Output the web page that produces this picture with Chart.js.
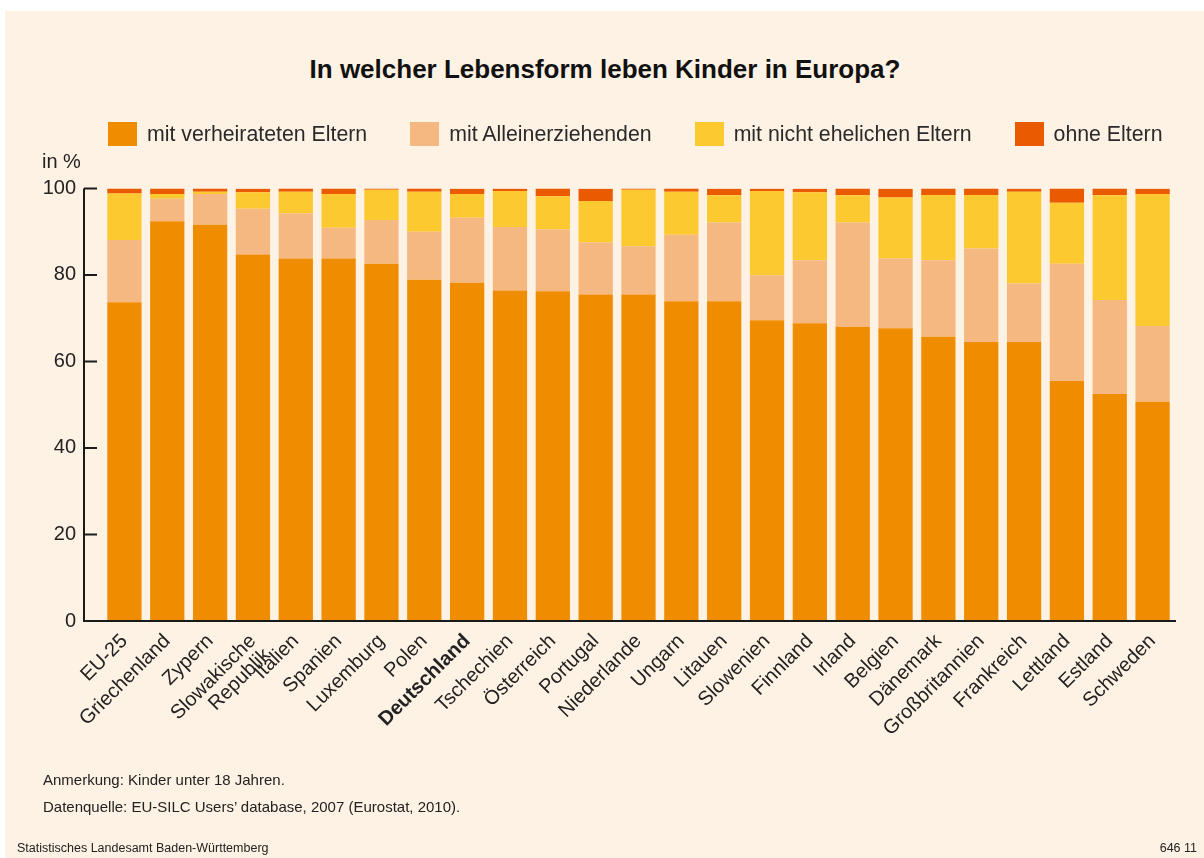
<!DOCTYPE html>
<html lang="de">
<head>
  <meta charset="UTF-8" />
  <title>In welcher Lebensform leben Kinder in Europa?</title>
  <script src="https://cdn.jsdelivr.net/npm/chart.js"></script>
  <style>
    html, body {
      margin: 0;
      padding: 0;
      background: #ffffff;
    }
    body {
      width: 1204px;
      height: 858px;
      position: relative;
      overflow: hidden;
      font-family: 'Liberation Sans', Arial, sans-serif;
      color: #222;
    }
    .panel {
      position: absolute;
      left: 5px;
      top: 11px;
      right: 0;
      bottom: 0;
      background: #fef2e4;
    }
    .wrap {
      position: absolute;
      left: 0;
      top: 0;
      width: 1204px;
      height: 858px;
    }
    h1 {
      position: absolute;
      left: 0;
      width: 1210px;
      top: 54px;
      margin: 0;
      text-align: center;
      font-size: 26px;
      font-weight: bold;
      color: #111;
    }
    #legend {
      position: absolute;
      left: 108px;
      top: 122px;
      display: flex;
      gap: 43px;
    }
    #legend .item {
      display: flex;
      align-items: center;
      height: 24px;
      font-size: 21.3px;
      color: #2a2a2a;
    }
    #legend .box {
      width: 29px;
      height: 24px;
      margin-right: 10px;
    }
    .note {
      position: absolute;
      left: 43px;
      font-size: 15px;
      color: #222;
    }
    .small {
      position: absolute;
      top: 841px;
      font-size: 12.5px;
      color: #222;
    }
  </style>
</head>
<body>
  <div class="panel"></div>
  <h1>In welcher Lebensform leben Kinder in Europa?</h1>
  <div class="wrap"><canvas id="chart"></canvas></div>
  <div id="legend"></div>
  <div class="note" style="top:771px">Anmerkung: Kinder unter 18 Jahren.</div>
  <div class="note" style="top:798px">Datenquelle: EU-SILC Users’ database, 2007 (Eurostat, 2010).</div>
  <div class="small" style="left:17px">Statistisches Landesamt Baden-Württemberg</div>
  <div class="small" style="right:7px">646 11</div>

  <script>
    // Länder (Reihenfolge wie im Original)
    const countries = ['EU-25', 'Griechenland', 'Zypern', ['Slowakische', 'Republik'], 'Italien', 'Spanien',
      'Luxemburg', 'Polen', 'Deutschland', 'Tschechien', 'Österreich', 'Portugal', 'Niederlande', 'Ungarn',
      'Litauen', 'Slowenien', 'Finnland', 'Irland', 'Belgien', 'Dänemark', 'Großbritannien', 'Frankreich',
      'Lettland', 'Estland', 'Schweden'];

    // Anteile in %
    const verheiratet = [73.7, 92.4, 91.6, 84.7, 83.8, 83.8, 82.6, 78.9, 78.2, 76.4, 76.2, 75.5, 75.5,
      73.9, 73.9, 69.5, 68.8, 68.0, 67.7, 65.7, 64.5, 64.5, 55.5, 52.5, 50.7];
    const alleinerziehend = [14.4, 5.2, 7.1, 10.6, 10.4, 7.1, 10.1, 11.1, 15.0, 14.7, 14.3, 12.0, 11.1,
      15.4, 18.2, 10.4, 14.6, 24.1, 16.1, 17.7, 21.6, 13.5, 27.1, 21.7, 17.5];
    const nichtEhelich = [10.7, 1.1, 0.5, 3.8, 5.0, 7.8, 7.0, 9.2, 5.5, 8.3, 7.7, 9.6, 13.1,
      9.9, 6.3, 19.5, 15.7, 6.3, 14.1, 15.1, 12.4, 21.2, 14.1, 24.2, 30.5];
    const ohneEltern = [1.2, 1.3, 0.8, 0.8, 0.8, 1.3, 0.3, 0.8, 1.2, 0.5, 1.8, 2.8, 0.3,
      0.8, 1.5, 0.5, 0.8, 1.6, 2.0, 1.5, 1.5, 0.7, 3.3, 1.6, 1.2];

    const yTicks = [0, 20, 40, 60, 80, 100];
    const boldIndex = countries.indexOf('Deutschland');

    // Achsenkreuz mit nach innen zeigenden Strichen, etwas links vom ersten Balken
    const axisFrame = {
      id: 'axisFrame',
      afterDatasetsDraw(chart) {
        const { ctx, chartArea, scales: { y } } = chart;
        const x0 = chartArea.left - 19;
        const yTop = y.getPixelForValue(100);
        const yBottom = y.getPixelForValue(0);
        ctx.save();
        ctx.strokeStyle = '#1a1a1a';
        ctx.lineWidth = 2;
        ctx.beginPath();
        ctx.moveTo(x0, yTop);
        ctx.lineTo(x0, yBottom);
        ctx.lineTo(chartArea.right + 2, yBottom);
        yTicks.forEach(v => {
          const py = y.getPixelForValue(v);
          ctx.moveTo(x0, py);
          ctx.lineTo(x0 + 13, py);
        });
        ctx.stroke();
        ctx.restore();
      }
    };

    // Legende als HTML aus den Datensätzen
    const htmlLegend = {
      id: 'htmlLegend',
      afterUpdate(chart) {
        const box = document.getElementById('legend');
        box.innerHTML = '';
        chart.data.datasets.forEach(ds => {
          const item = document.createElement('div');
          item.className = 'item';
          const sw = document.createElement('span');
          sw.className = 'box';
          sw.style.background = ds.backgroundColor;
          item.appendChild(sw);
          item.appendChild(document.createTextNode(ds.label));
          box.appendChild(item);
        });
      }
    };

    const makeSet = (label, data, color) => ({
      label: label,
      data: data,
      backgroundColor: color,
      borderWidth: 0,
      barPercentage: 0.8,
      categoryPercentage: 1.0
    });

    new Chart(document.getElementById('chart'), {
      type: 'bar',
      data: {
        labels: countries,
        datasets: [
          makeSet('mit verheirateten Eltern', verheiratet, '#f08c00'),
          makeSet('mit Alleinerziehenden', alleinerziehend, '#f5b881'),
          makeSet('mit nicht ehelichen Eltern', nichtEhelich, '#fcca30'),
          makeSet('ohne Eltern', ohneEltern, '#ea5a00')
        ]
      },
      options: {
        responsive: true,
        maintainAspectRatio: false,
        animation: false,
        layout: {
          padding: { top: 150, right: 30, bottom: 0, left: 42 }
        },
        plugins: {
          tooltip: { enabled: false },
          legend: { display: false },
          subtitle: {
            display: true,
            text: 'in %',
            align: 'start',
            color: '#222',
            font: { family: "'Liberation Sans', Arial, sans-serif", size: 20, weight: 'normal', lineHeight: 1.2 },
            padding: { top: 0, bottom: 14.4 }
          }
        },
        scales: {
          x: {
            stacked: true,
            grid: { display: false },
            border: { display: false },
            ticks: {
              autoSkip: false,
              minRotation: 45,
              maxRotation: 45,
              padding: 2,
              color: '#222',
              font: (c) => ({
                family: "'Liberation Sans', Arial, sans-serif",
                size: 20,
                weight: c.index === boldIndex ? 'bold' : 'normal',
                lineHeight: 1.0
              })
            },
            afterFit: (scale) => { scale.height = 237; }
          },
          y: {
            stacked: true,
            min: 0,
            max: 100,
            grid: { display: false, drawTicks: false },
            border: { display: false },
            ticks: {
              stepSize: 20,
              padding: 27,
              color: '#222',
              font: { family: "'Liberation Sans', Arial, sans-serif", size: 20 }
            },
            afterFit: (scale) => { scale.width = 61; }
          }
        }
      },
      plugins: [axisFrame, htmlLegend]
    });
  </script>
</body>
</html>
